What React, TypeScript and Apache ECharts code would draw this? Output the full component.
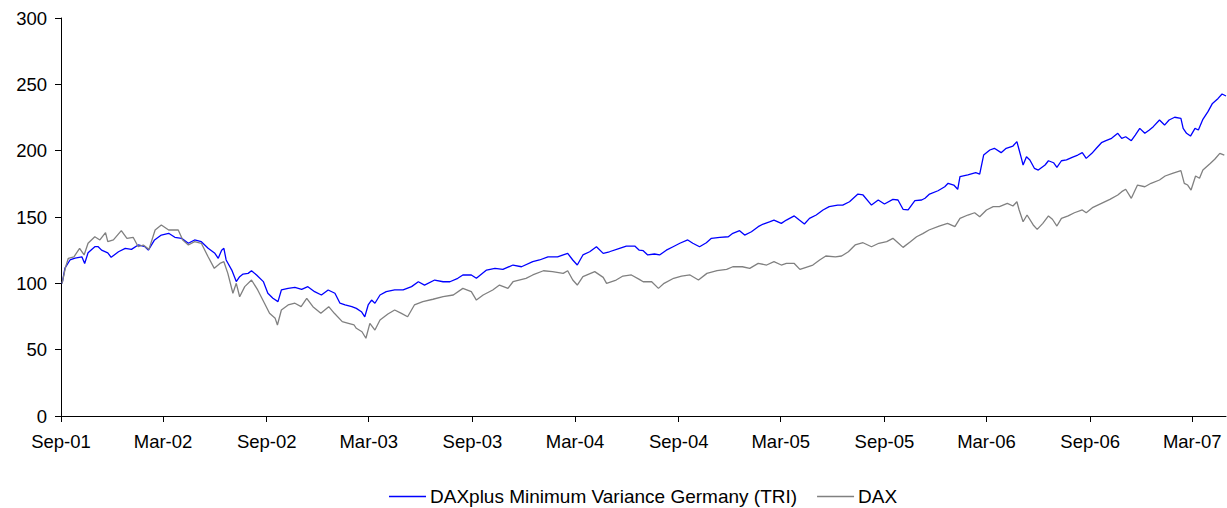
import React, { useEffect, useRef } from "react";
import * as echarts from "echarts";

const blueDates = [
  "2001-09-03","2001-09-08","2001-09-17","2001-09-26","2001-10-08","2001-10-13","2001-10-19","2001-10-31","2001-11-06","2001-11-12","2001-11-23","2001-11-29","2001-12-12","2001-12-24",
  "2002-01-04","2002-01-16","2002-01-28","2002-02-03","2002-02-14","2002-02-26","2002-03-11","2002-03-22","2002-04-03","2002-04-15","2002-04-26","2002-05-08","2002-05-20","2002-06-01","2002-06-07","2002-06-13","2002-06-17","2002-06-21","2002-07-01","2002-07-09","2002-07-15","2002-07-21","2002-07-30","2002-08-05","2002-08-14","2002-08-26","2002-09-03","2002-09-12","2002-09-21","2002-09-27","2002-10-09","2002-10-21","2002-11-02","2002-11-13","2002-11-25","2002-12-07","2002-12-19","2002-12-31",
  "2003-01-09","2003-01-18","2003-01-30","2003-02-07","2003-02-16","2003-02-22","2003-02-28","2003-03-06","2003-03-12","2003-03-21","2003-04-01","2003-04-16","2003-05-01","2003-05-16","2003-05-28","2003-06-08","2003-06-26","2003-07-11","2003-07-23","2003-08-06","2003-08-15","2003-08-30","2003-09-08","2003-09-26","2003-10-11","2003-10-25","2003-11-12","2003-11-27","2003-12-17","2003-12-29",
  "2004-01-13","2004-01-30","2004-02-17","2004-02-26","2004-03-05","2004-03-15","2004-03-27","2004-04-08","2004-04-20","2004-05-01","2004-05-19","2004-05-31","2004-06-15","2004-06-23","2004-06-30","2004-07-08","2004-07-20","2004-07-29","2004-08-10","2004-08-22","2004-09-03","2004-09-17","2004-09-26","2004-10-08","2004-10-20","2004-10-29","2004-11-13","2004-11-28","2004-12-06","2004-12-18","2004-12-27",
  "2005-01-08","2005-01-20","2005-01-29","2005-02-09","2005-02-17","2005-03-02","2005-03-11","2005-03-25","2005-04-03","2005-04-12","2005-04-21","2005-05-03","2005-05-15","2005-05-26","2005-06-10","2005-06-19","2005-07-01","2005-07-16","2005-07-25","2005-08-09","2005-08-21","2005-09-01","2005-09-16","2005-09-25","2005-10-04","2005-10-13","2005-10-25","2005-11-06","2005-11-12","2005-11-20","2005-12-05","2005-12-17","2005-12-23",
  "2006-01-02","2006-01-09","2006-01-13","2006-01-27","2006-02-10","2006-02-17","2006-02-24","2006-03-07","2006-03-15","2006-03-27","2006-04-05","2006-04-17","2006-04-24","2006-04-28","2006-05-02","2006-05-05","2006-05-11","2006-05-17","2006-05-25","2006-06-01","2006-06-13","2006-06-19","2006-06-28","2006-07-04","2006-07-12","2006-07-21","2006-07-31","2006-08-10","2006-08-18","2006-08-25","2006-09-04","2006-09-12","2006-09-21","2006-09-29","2006-10-09","2006-10-20","2006-10-27","2006-11-03","2006-11-13","2006-11-20","2006-11-28","2006-12-07","2006-12-15","2006-12-22",
  "2007-01-02","2007-01-11","2007-01-19","2007-01-29","2007-02-09","2007-02-13","2007-02-19","2007-02-26","2007-03-06","2007-03-12","2007-03-20","2007-03-29","2007-04-06","2007-04-16","2007-04-23","2007-04-30"
];
const blueValues = [
  100,111.5,117.6,119,120,115,123,127.6,127.6,125,123,119.6,123.8,126.4,
  125.6,128.9,127.6,125,132.7,136.4,137.7,134.7,133.9,130.2,132.7,131.4,126.4,122.6,118.9,125,126.4,117.6,110,101.3,105,107,107.5,109.5,106.3,101.3,92.5,88.7,86.2,95,96.2,97,95.5,97.5,93.7,91.2,95,92.5,
  85,83.7,82.4,81.1,78.6,74.8,83.7,87.4,85,91.2,93.7,95,95,97.5,101.2,98.7,102.5,101.2,101.2,103.8,106.3,106.3,103.8,110,111.3,110.5,113.8,112.5,116.3,117.6,
  120,120,122.6,117.6,113.8,121.4,123.8,127.6,122.6,123.8,126.4,128.1,128.1,125,124.6,121.4,122.1,121.4,125,127.6,130.2,132.7,130.2,127.6,130.6,133.9,134.7,135.1,137.7,139.7,136.4,
  138.9,142.7,144.7,146.4,147.7,145.2,147.7,150.8,147.7,144.7,149,151.5,155.3,157.8,159,159,161.5,167.3,166.6,159,162.8,159.8,163.3,162.8,155.8,155.3,162.3,162.8,164.1,167.3,169.8,172.8,175.4,
  174.1,170.9,180.4,181.7,183.4,182.4,196.7,200.5,201.8,198.5,201.8,203.5,206.8,200.5,194.2,189.2,195.4,193,186.7,185.4,189.2,192.4,190.9,187.4,192.4,193,195,196.7,198.5,194.2,198,201.8,206,207.5,209.3,213.1,209.3,210.5,207.5,211.8,216.8,213.1,215.6,218.1,
  223.1,219.3,223.1,225.2,224.4,216.8,213.1,211,216.8,215.6,223.6,229.4,235.6,239.4,242.7,241.2
];

const grayDates = [
  "2001-09-03","2001-09-09","2001-09-14","2001-09-24","2001-10-04","2001-10-12","2001-10-19","2001-10-31","2001-11-09","2001-11-19","2001-11-23","2001-12-03","2001-12-17","2001-12-27",
  "2002-01-07","2002-01-16","2002-01-25","2002-02-04","2002-02-15","2002-02-26","2002-03-11","2002-03-28","2002-04-05","2002-04-15","2002-04-26","2002-05-08","2002-05-20","2002-05-31","2002-06-10","2002-06-17","2002-06-24","2002-07-03","2002-07-09","2002-07-15","2002-07-24","2002-08-05","2002-08-16","2002-08-28","2002-09-06","2002-09-16","2002-09-20","2002-09-27","2002-10-09","2002-10-21","2002-11-01","2002-11-11","2002-11-22","2002-12-06","2002-12-20","2002-12-30",
  "2003-01-13","2003-01-24","2003-02-03","2003-02-07","2003-02-17","2003-02-24","2003-03-03","2003-03-12","2003-03-21","2003-04-04","2003-04-16","2003-04-28","2003-05-09","2003-05-21","2003-06-05","2003-06-23","2003-07-11","2003-07-29","2003-08-15","2003-08-30","2003-09-08","2003-09-20","2003-10-07","2003-10-19","2003-11-03","2003-11-12","2003-12-05","2003-12-17",
  "2004-01-05","2004-01-21","2004-02-09","2004-02-17","2004-02-26","2004-03-05","2004-03-15","2004-04-05","2004-04-20","2004-04-26","2004-05-13","2004-05-25","2004-06-09","2004-06-23","2004-06-30","2004-07-15","2004-07-27","2004-08-06","2004-08-23","2004-09-06","2004-09-21","2004-10-06","2004-10-21","2004-11-08","2004-11-25","2004-12-06","2004-12-23",
  "2005-01-05","2005-01-20","2005-02-04","2005-02-17","2005-03-02","2005-03-11","2005-03-25","2005-04-04","2005-04-15","2005-04-27","2005-05-09","2005-05-20","2005-06-06","2005-06-17","2005-06-29","2005-07-11","2005-07-25","2005-08-09","2005-08-22","2005-09-05","2005-09-16","2005-09-26","2005-10-04","2005-10-17","2005-10-28","2005-11-08","2005-11-19","2005-12-07","2005-12-22",
  "2006-01-04","2006-01-13","2006-01-27","2006-02-08","2006-02-17","2006-03-01","2006-03-13","2006-03-24","2006-04-07","2006-04-17","2006-04-24","2006-04-28","2006-05-05","2006-05-12","2006-05-23","2006-05-30","2006-06-09","2006-06-19","2006-06-26","2006-07-04","2006-07-12","2006-07-24","2006-08-04","2006-08-18","2006-08-25","2006-09-06","2006-09-21","2006-10-06","2006-10-20","2006-10-27","2006-11-03","2006-11-13","2006-11-24","2006-12-07","2006-12-18",
  "2007-01-02","2007-01-12","2007-01-25","2007-02-09","2007-02-15","2007-02-21","2007-02-27","2007-03-07","2007-03-14","2007-03-20","2007-04-02","2007-04-10","2007-04-19","2007-04-27"
];
const grayValues = [
  100,112,118.9,120,126.4,121.4,130.2,135.1,132.7,138.2,131.4,132.7,139.7,133.9,
  134.7,127.6,128.9,125.6,140.2,144,140.2,140.2,132.7,128.9,131.4,130.2,120,111.3,115,116.3,107.5,92.5,100,89.9,97.5,102.5,95,85,77.4,73.6,68.6,79.9,83.7,85,82.4,88.7,82.4,77.4,82.4,77.4,
  71.1,69.8,68.6,66.1,63.5,58.6,69.8,64.8,72.4,76.9,79.9,77.4,74.8,83.7,86.2,88,89.9,91.2,96.2,93.7,87.4,91.2,95,98.7,96.2,101.2,103.8,106.3,
  109.5,108.8,107.5,109.5,102.5,98.7,105,108.8,104.5,100,102.5,105.5,106.3,103,101.2,101.2,96.2,100,103.8,105.5,106.3,102.5,107.5,109.5,110.5,112.5,112.5,
  111.3,115,113.8,116.3,113.8,115,115,110.5,112.1,113.8,117.6,120.6,120,120.6,123.8,128.9,130.6,127.6,130.2,131.4,133.9,130.2,127.1,131.4,135.1,137.5,140.2,143.2,145.2,
  142.7,149,151.5,153.2,150.2,155.3,157.8,157.8,160.3,158.3,161.5,155.3,146.4,151.5,144,140.7,145.2,150.8,148.3,143.2,149,150.8,153.2,155.3,153.2,157.3,160.3,163.3,166.6,169.1,170.9,164.1,174.1,172.8,175.4,
  177.9,180.9,182.9,184.9,175.4,174.1,170.3,180.9,179.2,185.4,190.4,193.5,198,196.7
];

const tickDates = [
  "2001-09-01","2002-03-01","2002-09-01","2003-03-01","2003-09-01","2004-03-01",
  "2004-09-01","2005-03-01","2005-09-01","2006-03-01","2006-09-01","2007-03-01"
];
const tickLabels = [
  "Sep-01","Mar-02","Sep-02","Mar-03","Sep-03","Mar-04",
  "Sep-04","Mar-05","Sep-05","Mar-06","Sep-06","Mar-07"
];

const seriesNames = ["DAXplus Minimum Variance Germany (TRI)", "DAX"];

const ts = (s: string) => {
  const [y, m, d] = s.split("-").map(Number);
  return Date.UTC(y, m - 1, d);
};

const FONT = "'Liberation Sans', Arial, sans-serif";
const FS = 18.5;

export default function App() {
  const ref = useRef<HTMLDivElement>(null);
  useEffect(() => {
    if (!ref.current) return;
    const chart = echarts.init(ref.current, undefined, { renderer: "svg" });
    const tickTs = tickDates.map(ts);
    chart.setOption({
      animation: false,
      backgroundColor: "#ffffff",
      textStyle: { fontFamily: FONT },
      grid: { left: 61, right: 1, top: 18, bottom: 92, containLabel: false },
      legend: {
        left: 384,
        top: 482,
        icon: "rect",
        itemWidth: 37,
        itemHeight: 1.5,
        itemGap: 20,
        textStyle: { fontSize: 19, color: "#000", fontFamily: FONT, padding: [0, 0, 0, -1] },
        data: seriesNames,
      },
      xAxis: {
        type: "value",
        min: ts("2001-09-01"),
        max: ts("2007-04-30"),
        axisLine: { show: true, lineStyle: { color: "#000", width: 1 } },
        axisTick: { show: true, length: 6, customValues: tickTs, lineStyle: { color: "#000" } },
        axisLabel: {
          customValues: tickTs,
          formatter: (v: number) => {
            const i = tickTs.indexOf(v);
            return i >= 0 ? tickLabels[i] : "";
          },
          fontSize: FS,
          color: "#000",
          margin: 16,
          fontFamily: FONT,
        },
        splitLine: { show: false },
      },
      yAxis: {
        type: "value",
        min: 0,
        max: 300,
        interval: 50,
        axisLine: { show: true, lineStyle: { color: "#000", width: 1 } },
        axisTick: { show: true, length: 6, lineStyle: { color: "#000" } },
        axisLabel: { fontSize: FS, color: "#000", margin: 14, fontFamily: FONT },
        splitLine: { show: false },
      },
      series: [
        {
          name: seriesNames[0],
          type: "line",
          symbol: "none",
          color: "#0000FF",
          lineStyle: { color: "#0000FF", width: 1.3 },
          data: blueDates.map((d, i) => [ts(d), blueValues[i]]),
        },
        {
          name: seriesNames[1],
          type: "line",
          symbol: "none",
          color: "#808080",
          lineStyle: { color: "#808080", width: 1.3 },
          data: grayDates.map((d, i) => [ts(d), grayValues[i]]),
        },
      ],
    });
    return () => chart.dispose();
  }, []);
  return (
    <div
      ref={ref}
      style={{ position: "fixed", left: 0, top: 0, width: 1227, height: 508, background: "#fff" }}
    />
  );
}
